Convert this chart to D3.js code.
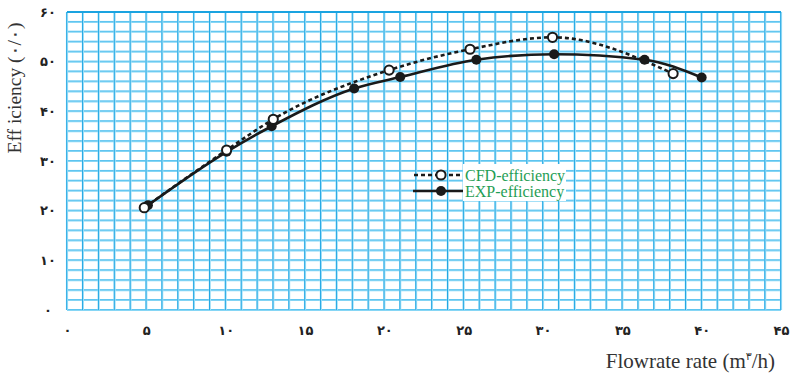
<!DOCTYPE html>
<html>
<head>
<meta charset="utf-8">
<script src="https://cdn.jsdelivr.net/npm/d3@7"></script>
<style>
  html, body { margin: 0; padding: 0; background: #ffffff; }
  svg { display: block; }
</style>
</head>
<body>
<svg id="chart" width="797" height="374"></svg>
<script>
// ---- data ----
const cfdFlow = [4.87, 10.06, 13.0, 20.3, 25.4, 30.6, 38.2];
const cfdEff  = [20.6, 32.2, 38.4, 48.3, 52.5, 54.9, 47.6];
const expFlow = [5.1, 10.06, 12.9, 18.1, 21.0, 25.8, 30.7, 36.4, 40.0];
const expEff  = [21.1, 31.85, 37.0, 44.6, 46.9, 50.4, 51.5, 50.4, 46.8];
const xTicks = [0, 5, 10, 15, 20, 25, 30, 35, 40, 45];
const yTicks = [0, 10, 20, 30, 40, 50, 60];
const seriesNames = ["CFD-efficiency", "EXP-efficiency"];
const xTitle = "Flowrate rate (m";
const xTitleSup = "۳";
const xTitleEnd = "/h)";
const yTitle = "Eff iciency (۰/۰)";

const toPersian = n => String(n).replace(/\d/g, d => "۰۱۲۳۴۵۶۷۸۹"[d]);

const svg = d3.select("#chart");
const L = 67, R = 781, T = 12, B = 310;
const x = d3.scaleLinear().domain([0, 45]).range([L, R]);
const y = d3.scaleLinear().domain([0, 60]).range([B, T]);

// ---- grid ----
const grid = svg.append("g");
const hVals = d3.range(0, 61, 2);
const vVals = d3.range(0, 46, 1);
grid.selectAll("line.h").data(hVals).join("line")
  .attr("x1", L).attr("x2", R)
  .attr("y1", d => y(d)).attr("y2", d => y(d))
  .attr("stroke", "#86d6f5").attr("stroke-width", 2);
grid.selectAll("line.h2").data(hVals).join("line")
  .attr("x1", L).attr("x2", R)
  .attr("y1", d => y(d) - 0.5).attr("y2", d => y(d) - 0.5)
  .attr("stroke", "#4dbcec").attr("stroke-width", 0.7);
grid.selectAll("line.v").data(vVals).join("line")
  .attr("y1", T).attr("y2", B)
  .attr("x1", d => x(d)).attr("x2", d => x(d))
  .attr("stroke", "#a4e0f7").attr("stroke-width", 2.2);
grid.selectAll("line.v2").data(vVals).join("line")
  .attr("y1", T).attr("y2", B)
  .attr("x1", d => x(d) - 0.3).attr("x2", d => x(d) - 0.3)
  .attr("stroke", "#23a8e4").attr("stroke-width", 1);
grid.append("line").attr("x1", L).attr("x2", R).attr("y1", y(60)).attr("y2", y(60))
  .attr("stroke", "#1aa3e0").attr("stroke-width", 2);

// ---- axes (labels only) ----
const xAxis = svg.append("g").attr("transform", `translate(0,${B})`)
  .call(d3.axisBottom(x).tickValues(xTicks).tickFormat(toPersian).tickSize(0).tickPadding(14));
xAxis.select(".domain").remove();
xAxis.selectAll("text").attr("font-family", "DejaVu Sans").attr("font-weight", "bold")
  .attr("font-size", 13).attr("fill", "#222").attr("dy", "0.35em").attr("y", 20);

const yAxis = svg.append("g").attr("transform", `translate(48,0)`)
  .call(d3.axisLeft(y).tickValues(yTicks).tickFormat(toPersian).tickSize(0).tickPadding(0));
yAxis.select(".domain").remove();
yAxis.selectAll("text").attr("font-family", "DejaVu Sans").attr("font-weight", "bold")
  .attr("font-size", 13).attr("fill", "#222").attr("text-anchor", "middle").attr("x", 0);

// ---- titles ----
const xt = svg.append("text").attr("x", 775).attr("y", 368).attr("text-anchor", "end")
  .attr("font-family", "Liberation Serif").attr("font-size", 21).attr("fill", "#333");
xt.append("tspan").text(xTitle);
xt.append("tspan").text(xTitleSup).attr("font-size", 11).attr("dy", -8).attr("font-family", "DejaVu Sans");
xt.append("tspan").text(xTitleEnd).attr("dy", 8);

svg.append("text").attr("transform", "translate(21,88) rotate(-90)")
  .attr("text-anchor", "middle").attr("font-family", "Liberation Serif")
  .attr("font-size", 19.5).attr("fill", "#333").text(yTitle);

// ---- lines ----
const cfd = cfdFlow.map((v, i) => [v, cfdEff[i]]);
const exp = expFlow.map((v, i) => [v, expEff[i]]);
const line = d3.line().x(d => x(d[0])).y(d => y(d[1])).curve(d3.curveMonotoneX);

svg.append("path").datum(exp).attr("d", line).attr("fill", "none")
  .attr("stroke", "#1a1a1a").attr("stroke-width", 2.6);
svg.append("path").datum(cfd).attr("d", line).attr("fill", "none")
  .attr("stroke", "#1a1a1a").attr("stroke-width", 2.6).attr("stroke-dasharray", "4,3");

svg.selectAll("circle.exp").data(exp).join("circle")
  .attr("cx", d => x(d[0])).attr("cy", d => y(d[1])).attr("r", 5)
  .attr("fill", "#1a1a1a");
svg.selectAll("circle.cfd").data(cfd).join("circle")
  .attr("cx", d => x(d[0])).attr("cy", d => y(d[1])).attr("r", 4.6)
  .attr("fill", "#fff").attr("stroke", "#1a1a1a").attr("stroke-width", 2);

// ---- legend ----
const lg = svg.append("g");
lg.append("rect").attr("x", 463).attr("y", 164).attr("width", 103).attr("height", 37).attr("fill", "#fff");
const legY = [175, 191];
lg.append("line").attr("x1", 414).attr("x2", 463).attr("y1", legY[0]).attr("y2", legY[0])
  .attr("stroke", "#1a1a1a").attr("stroke-width", 2.6).attr("stroke-dasharray", "4,3");
lg.append("circle").attr("cx", 441).attr("cy", legY[0]).attr("r", 4.6)
  .attr("fill", "#fff").attr("stroke", "#1a1a1a").attr("stroke-width", 2);
lg.append("line").attr("x1", 413).attr("x2", 463).attr("y1", legY[1]).attr("y2", legY[1])
  .attr("stroke", "#1a1a1a").attr("stroke-width", 2.6);
lg.append("circle").attr("cx", 441).attr("cy", legY[1]).attr("r", 5).attr("fill", "#1a1a1a");
lg.selectAll("text").data(seriesNames).join("text")
  .attr("x", 465).attr("y", (d, i) => legY[i]).attr("dy", "0.35em")
  .attr("font-family", "Liberation Serif").attr("font-size", 16).attr("fill", "#1f9e55")
  .text(d => d);
</script>
</body>
</html>
